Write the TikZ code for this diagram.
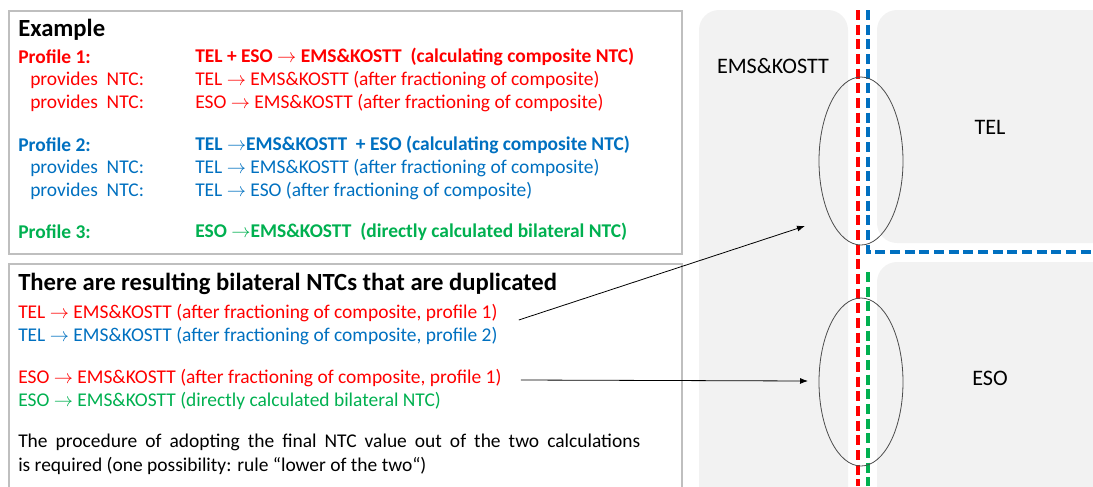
\documentclass[tikz,border=0pt]{standalone}
\usepackage{fontspec}
\setmainfont{Carlito}
\usetikzlibrary{arrows.meta,shapes.geometric}

\definecolor{ntcred}{HTML}{FF0000}
\definecolor{ntcblue}{HTML}{0070C0}
\definecolor{ntcgreen}{HTML}{00B050}
\definecolor{areagray}{HTML}{F2F2F2}
\definecolor{framegray}{HTML}{BFBFBF}
\newcommand{\ra}{$\rightarrow$}

\begin{document}
\begin{tikzpicture}[x=0.75pt,y=-0.75pt,
  txt/.style={anchor=west,inner sep=0pt,font=\fontsize{14.6}{17.5}\selectfont},
  bold/.style={txt,font=\fontsize{14.6}{17.5}\selectfont\bfseries},
  head/.style={txt,font=\fontsize{18.5}{22}\selectfont\bfseries},
  label/.style={txt,anchor=center,font=\fontsize{16.6}{20}\selectfont},
  frame/.style={draw=framegray,line width=0.9pt},
  area/.style={fill=areagray,rounded corners=15pt},
  border/.style={line width=2.3pt,dash pattern=on 7.5pt off 3.5pt},
  zone/.style={draw=black!70,line width=0.6pt,ellipse,minimum width=63pt,minimum height=126pt,inner sep=0pt},
  pointer/.style={-{Latex[length=6pt,width=4.5pt]},line width=0.6pt}]
\useasboundingbox (0,0) rectangle (1093,486);

% countries
\fill[area] (699,10) rectangle (848,520);
\fill[area] (877,10) rectangle (1130,243);
\fill[area] (877,262) rectangle (1130,520);
\node[label] (ems) at (773,66) {EMS\&KOSTT};
\node[label] (tel) at (990,127) {TEL};
\node[label] (eso) at (990,378) {ESO};

% borders
\draw[border,ntcred] (858,10) -- (858,486);
\draw[border,ntcblue] (868,10) -- (868,252) -- (1093,252);
\draw[border,ntcgreen] (868,272) -- (868,486);

% ellipses
\node[zone] (zoneTel) at (861,161) {};
\node[zone] (zoneEso) at (861,382) {};

% example box
\draw[frame] (9,11) rectangle (682,254);
\node[head] (ex) at (18,30) {Example};
\begin{scope}[ntcred]
\node[bold] (p1) at (18,57) {Profile 1:};
\node[bold] (p1c) at (195,57) {TEL + ESO \ra\ EMS\&KOSTT \ (calculating composite NTC)};
\node[txt] (p1a) at (30,80) {provides \ NTC:};
\node[txt] (p1ab) at (195,80) {TEL \ra\ EMS\&KOSTT (after fractioning of composite)};
\node[txt] (p1b) at (30,103) {provides \ NTC:};
\node[txt] (p1bb) at (195,103) {ESO \ra\ EMS\&KOSTT (after fractioning of composite)};
\end{scope}
\begin{scope}[ntcblue]
\node[bold] (p2) at (18,145) {Profile 2:};
\node[bold] (p2c) at (195,145) {TEL \ra EMS\&KOSTT \ + ESO (calculating composite NTC)};
\node[txt] (p2a) at (30,168) {provides \ NTC:};
\node[txt] (p2ab) at (195,168) {TEL \ra\ EMS\&KOSTT (after fractioning of composite)};
\node[txt] (p2b) at (30,191) {provides \ NTC:};
\node[txt] (p2bb) at (195,191) {TEL \ra\ ESO (after fractioning of composite)};
\end{scope}
\begin{scope}[ntcgreen]
\node[bold] (p3) at (18,232) {Profile 3:};
\node[bold] (p3c) at (195,232) {ESO \ra EMS\&KOSTT \ (directly calculated bilateral NTC)};
\end{scope}

% duplicates box
\draw[frame] (9,520) -- (9,264) -- (682,264) -- (682,520);
\node[head] (dup) at (18,284) {There are resulting bilateral NTCs that are duplicated};
\node[txt,ntcred] (d1) at (18,313) {TEL \ra\ EMS\&KOSTT (after fractioning of composite, profile 1)};
\node[txt,ntcblue] (d2) at (18,336) {TEL \ra\ EMS\&KOSTT (after fractioning of composite, profile 2)};
\node[txt,ntcred] (d3) at (18,378) {ESO \ra\ EMS\&KOSTT (after fractioning of composite, profile 1)};
\node[txt,ntcgreen] (d4) at (18,401) {ESO \ra\ EMS\&KOSTT (directly calculated bilateral NTC)};
\node[txt,anchor=north west,text width=466.5pt,align=justify,font=\fontsize{14.6}{18}\selectfont] (rule) at (18,434)
  {The procedure of adopting the final NTC value out of the two calculations\linebreak is required (one possibility: rule “lower of the two“)};

% pointers
\coordinate (telEnd) at (805,226);
\coordinate (esoEnd) at (808,381);
\draw[pointer] (d1.east) ++(21,7) -- (telEnd);
\draw[pointer] (d3.east) ++(19,2) -- (esoEnd);
\end{tikzpicture}
\end{document}
